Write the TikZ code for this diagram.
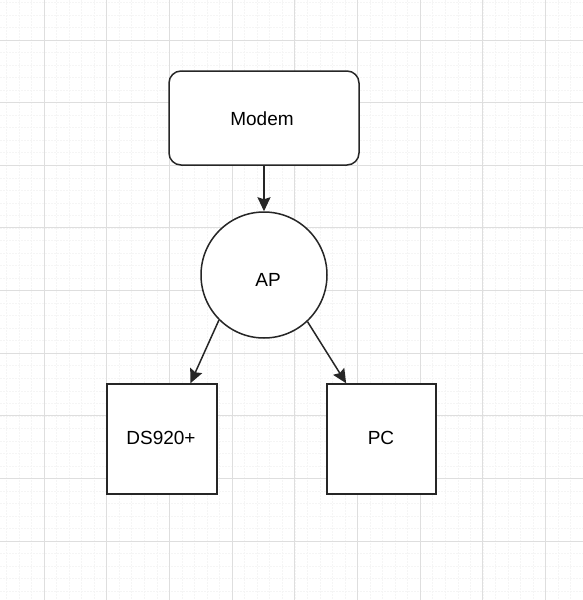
\documentclass[tikz,border=0pt]{standalone}
\usepackage{fontspec}
\setmainfont{Liberation Sans}
\usetikzlibrary{arrows.meta,calc}
\tikzset{
  boxstyle/.style={draw=black!85, line width=1.5pt, fill=white, inner sep=0pt},
  lbl/.style={font=\fontsize{19}{22}\selectfont, text=black},
  conn/.style={draw=black!85, line width=1.5pt, -{Stealth[length=14pt,width=13pt,inset=2pt]}},
  majorgrid/.style={draw=black!13, line width=1pt},
  minorgrid/.style={draw=black!4, line width=0.6pt, dash pattern=on 1.5pt off 1.5pt}
}
\begin{document}
\begin{tikzpicture}[x=1pt,y=-1pt]
\useasboundingbox (0,0) rectangle (583,600);
\fill[white] (0,0) rectangle (583,600);
% minor grid
\foreach \k in {-4,...,45} {
  \draw[minorgrid] ({44+12.54*\k},0) -- ({44+12.54*\k},600);
  \draw[minorgrid] (0,{40+12.53*\k}) -- (583,{40+12.53*\k});
}
% major grid
\foreach \k in {-1,...,9} {
  \draw[majorgrid] ({44+62.7*\k},0) -- ({44+62.7*\k},600);
  \draw[majorgrid] (0,{40+62.65*\k}) -- (583,{40+62.65*\k});
}
% nodes
\node[boxstyle, rounded corners=12pt, minimum width=190pt, minimum height=94pt] (modem) at (264,118) {};
\node[lbl] (modemlbl) at (262,119) {Modem};
\node[boxstyle, circle, minimum size=126pt] (ap) at (264,275) {};
\node[lbl] (aplbl) at (268,280) {AP};
\node[boxstyle, minimum width=110pt, minimum height=110pt] (ds) at (162,439) {};
\node[lbl] (dslbl) at (161,438) {DS920+};
\node[boxstyle, minimum width=109pt, minimum height=110pt] (pc) at (381.5,439) {};
\node[lbl] (pclbl) at (381,438) {PC};
% connectors
\coordinate (dsin) at ($(ds.north west)!0.755!(ds.north east)$);
\coordinate (pcin) at ($(pc.north west)!0.18!(pc.north east)$);
\draw[conn] (modem.south) -- (ap.north);
\draw[conn] (ap.-135) -- (dsin);
\draw[conn] (ap.-47) -- (pcin);
\end{tikzpicture}
\end{document}
